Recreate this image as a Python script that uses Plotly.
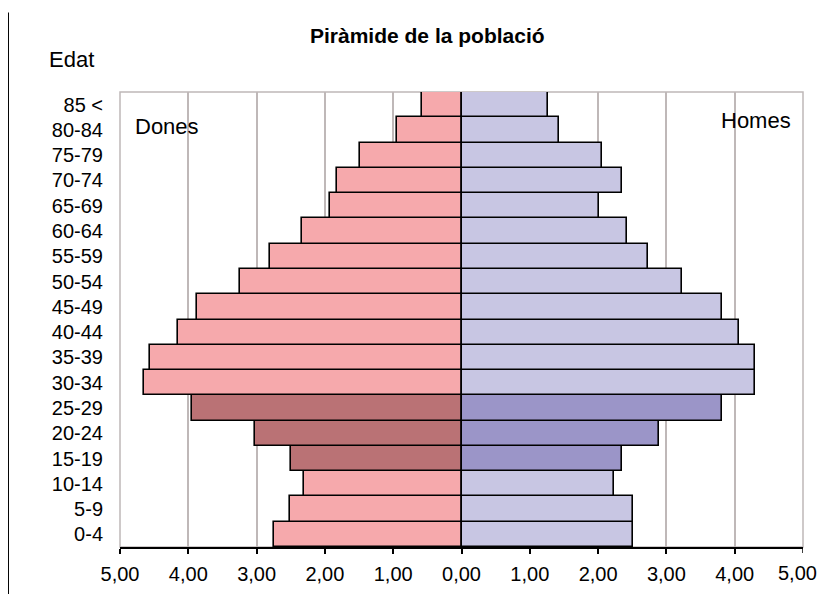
import plotly.graph_objects as go

age_groups = ["0-4", "5-9", "10-14", "15-19", "20-24", "25-29", "30-34", "35-39",
              "40-44", "45-49", "50-54", "55-59", "60-64", "65-69", "70-74",
              "75-79", "80-84", "85 <"]
dones = [2.75, 2.51, 2.31, 2.49, 3.02, 3.95, 4.65, 4.56, 4.15, 3.88,
         3.24, 2.80, 2.34, 1.92, 1.83, 1.48, 0.95, 0.58]
homes = [2.51, 2.51, 2.23, 2.35, 2.89, 3.81, 4.30, 4.30, 4.07, 3.81,
         3.23, 2.73, 2.43, 2.02, 2.35, 2.05, 1.43, 1.26]
highlighted = ["15-19", "20-24", "25-29"]
tick_vals = [-5, -4, -3, -2, -1, 0, 1, 2, 3, 4, 5]
tick_text = ["5,00", "4,00", "3,00", "2,00", "1,00", "0,00", "1,00", "2,00", "3,00", "4,00", "5,00"]

F_LIGHT, F_DARK = "#F6A9AC", "#BA7275"
M_LIGHT, M_DARK = "#C8C6E3", "#9B95C8"

f_colors = [F_DARK if a in highlighted else F_LIGHT for a in age_groups]
m_colors = [M_DARK if a in highlighted else M_LIGHT for a in age_groups]

FONT = "Liberation Sans, Arial, sans-serif"

fig = go.Figure()
fig.add_trace(go.Bar(y=age_groups, x=[-v for v in dones], orientation="h", name="Dones",
                     marker=dict(color=f_colors, line=dict(color="#000000", width=1.6)),
                     showlegend=False, hoverinfo="skip"))
fig.add_trace(go.Bar(y=age_groups, x=homes, orientation="h", name="Homes",
                     marker=dict(color=m_colors, line=dict(color="#000000", width=1.6)),
                     showlegend=False, hoverinfo="skip"))

# the page body keeps its 8px margin; the figure is sized/offset to compensate
fig.update_layout(
    width=811, height=586,
    margin=dict(l=112, r=16, t=84, b=47),
    paper_bgcolor="white", plot_bgcolor="white",
    barmode="relative", bargap=0,
    font=dict(family=FONT, color="#000000", size=20),
    xaxis=dict(range=[-5, 5], tickvals=tick_vals[:-1], ticktext=tick_text[:-1],
               showgrid=True, gridcolor="#BFB8B8", gridwidth=1.5,
               zeroline=False, showline=True, linecolor="#000000", linewidth=2,
               ticks="outside", ticklen=5, tickwidth=1.5, tickcolor="#000000",
               ticklabelstandoff=3, automargin=False,
               tickfont=dict(size=20, family=FONT), fixedrange=True),
    yaxis=dict(categoryorder="array", categoryarray=age_groups,
               showgrid=False, zeroline=False, showline=False, ticks="",
               ticklabelstandoff=16, automargin=False, tickfont=dict(size=20, family=FONT),
               range=[-0.5, len(age_groups) - 0.5], fixedrange=True),
    shapes=[
        dict(type="rect", xref="paper", yref="paper", x0=0, x1=1, y0=0, y1=1,
             line=dict(color="#BFB8B8", width=1.5), layer="below"),
        # tick mark for the last value (its label sits at the page edge)
        dict(type="line", xref="x", yref="paper", x0=tick_vals[-1], x1=tick_vals[-1],
             y0=0, y1=-6, ysizemode="pixel", yanchor=0,
             line=dict(color="#000000", width=1.5)),
        dict(type="line", xref="paper", yref="paper", x0=-0.164, x1=-0.164,
             y0=1.175, y1=-0.13, line=dict(color="#000000", width=2)),
    ],
    annotations=[
        dict(text=tick_text[-1], xref="x", yref="paper", x=tick_vals[-1], y=0,
             xanchor="right", yanchor="top", xshift=16, yshift=-13, showarrow=False,
             font=dict(size=20, family=FONT)),
        dict(text="<b>Piràmide de la població</b>", xref="paper", yref="paper",
             x=0.4495, y=1.125, xanchor="center", yanchor="middle", showarrow=False,
             font=dict(size=21, family=FONT)),
        dict(text="Edat", xref="paper", yref="paper", x=-0.0717, y=1.0725,
             xanchor="center", yanchor="middle", showarrow=False,
             font=dict(size=22, family=FONT)),
        dict(text="Dones", xref="paper", yref="paper", x=0.019, y=0.925,
             xanchor="left", yanchor="middle", showarrow=False,
             font=dict(size=22, family=FONT)),
        dict(text="Homes", xref="paper", yref="paper", x=0.985, y=0.938,
             xanchor="right", yanchor="middle", showarrow=False,
             font=dict(size=22, family=FONT)),
    ],
)

fig.write_html("out.html", config={"displayModeBar": False})
